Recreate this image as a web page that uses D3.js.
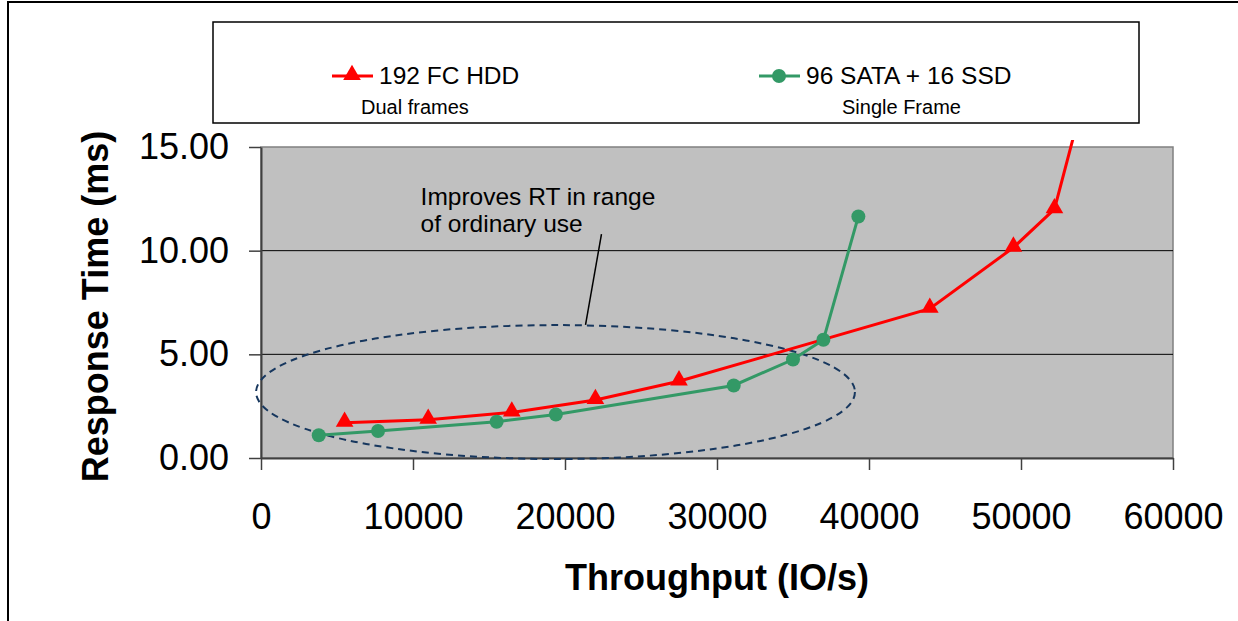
<!DOCTYPE html>
<html>
<head>
<meta charset="utf-8">
<script src="https://cdn.jsdelivr.net/npm/d3@7"></script>
<style>
  body { margin: 0; background: #fff; }
  text { font-family: "Liberation Sans", Arial, sans-serif; fill: #000; }
</style>
</head>
<body>
<script>
// data
let hddThroughput = [5500, 11000, 16500, 22000, 27500, 44000, 49500, 52200, 55000];
let hddRT         = [1.70, 1.85, 2.20, 2.80, 3.70, 7.20, 10.15, 12.0, 19.8];
let ssdThroughput = [3800, 7700, 15500, 19400, 31100, 35000, 37000, 39300];
let ssdRT         = [1.10, 1.30, 1.75, 2.10, 3.50, 4.75, 5.70, 11.65];
let xTicks = [0, 10000, 20000, 30000, 40000, 50000, 60000];
let yTicks = [0, 5, 10, 15];
let seriesNames = ["192 FC HDD", "96 SATA + 16 SSD"];
let seriesNotes = ["Dual frames", "Single Frame"];
let noteLines = ["Improves RT in range", "of ordinary use"];

let width = 1238;
let height = 621;
let plot = {left: 261, right: 1173, top: 147, bottom: 458};

let svg = d3.select("body").append("svg")
    .attr("width", width)
    .attr("height", height);

// outer frame
svg.append("path")
    .attr("d", `M8,${height} V2 H${width}`)
    .attr("fill", "none")
    .attr("stroke", "#000")
    .attr("stroke-width", 2);

let x = d3.scaleLinear().domain([0, 60000]).range([plot.left, plot.right]);
let y = d3.scaleLinear().domain([0, 15]).range([plot.bottom, plot.top]);

// plot area
svg.append("rect")
    .attr("x", plot.left).attr("y", plot.top)
    .attr("width", plot.right - plot.left).attr("height", plot.bottom - plot.top)
    .attr("fill", "#c0c0c0")
    .attr("stroke", "#808080")
    .attr("stroke-width", 1.5);

// gridlines
svg.append("g").selectAll("line")
    .data(yTicks.filter(d => d > 0 && d < 15))
    .enter().append("line")
    .attr("x1", plot.left).attr("x2", plot.right)
    .attr("y1", d => y(d)).attr("y2", d => y(d))
    .attr("stroke", "#000")
    .attr("stroke-width", 1);

// axes
let xAxis = svg.append("g")
    .attr("transform", `translate(0,${plot.bottom})`)
    .call(d3.axisBottom(x).tickValues(xTicks).tickFormat(d3.format("d"))
          .tickSize(12).tickSizeOuter(0).tickPadding(33));
let yAxis = svg.append("g")
    .attr("transform", `translate(${plot.left},0)`)
    .call(d3.axisLeft(y).tickValues(yTicks).tickFormat(d3.format(".2f"))
          .tickSize(12).tickSizeOuter(0).tickPadding(20));

[xAxis, yAxis].forEach(function(a) {
  a.select(".domain").attr("stroke", "#404040").attr("stroke-width", 2);
  a.selectAll(".tick line").attr("stroke", "#404040").attr("stroke-width", 1.5);
  a.selectAll(".tick text")
      .style("font-family", "'Liberation Sans', Arial, sans-serif")
      .style("font-size", "36px")
      .attr("fill", "#000");
});

// axis titles
svg.append("text")
    .attr("x", (plot.left + plot.right) / 2)
    .attr("y", 590)
    .attr("text-anchor", "middle")
    .style("font-size", "36px")
    .style("font-weight", "bold")
    .text("Throughput (IO/s)");

svg.append("text")
    .attr("transform", `translate(108,${(plot.top + plot.bottom) / 2 + 4}) rotate(-90)`)
    .attr("text-anchor", "middle")
    .style("font-size", "36px")
    .style("font-weight", "bold")
    .text("Response Time (ms)");

// annotation: ellipse + leader + note
let ell = {cx: 19375, cy: 3.18, rx: 19700, ry: 3.23};
svg.append("ellipse")
    .attr("cx", x(ell.cx)).attr("cy", y(ell.cy))
    .attr("rx", x(ell.rx) - x(0)).attr("ry", y(0) - y(ell.ry))
    .attr("fill", "none")
    .attr("stroke", "#17375e")
    .attr("stroke-width", 2)
    .attr("stroke-dasharray", "7,5");

let leader = [[22400, 10.8], [21350, 6.42]];
svg.append("line")
    .attr("x1", x(leader[0][0])).attr("y1", y(leader[0][1]))
    .attr("x2", x(leader[1][0])).attr("y2", y(leader[1][1]))
    .attr("stroke", "#000")
    .attr("stroke-width", 1.5);

svg.append("g").selectAll("text")
    .data(noteLines)
    .enter().append("text")
    .attr("x", x(10500))
    .attr("y", (d, i) => y(12.2) + i * 27)
    .style("font-size", "24.5px")
    .text(d => d);

// series
svg.append("clipPath").attr("id", "clip")
  .append("rect")
    .attr("x", plot.left).attr("y", plot.top - 7)
    .attr("width", plot.right - plot.left).attr("height", plot.bottom - plot.top + 7);

let line = d3.line().x(d => x(d[0])).y(d => y(d[1]));
let hdd = d3.zip(hddThroughput, hddRT);
let ssd = d3.zip(ssdThroughput, ssdRT);

let tri = d3.symbol().type(d3.symbolTriangle).size(135);

let series = svg.append("g").attr("clip-path", "url(#clip)");
series.append("path")
    .datum(hdd)
    .attr("d", line)
    .attr("fill", "none")
    .attr("stroke", "#ff0000")
    .attr("stroke-width", 3);
series.append("path")
    .datum(ssd)
    .attr("d", line)
    .attr("fill", "none")
    .attr("stroke", "#339966")
    .attr("stroke-width", 3);

series.selectAll(".tri")
    .data(hdd.filter(d => d[1] <= 15))
    .enter().append("path")
    .attr("class", "tri")
    .attr("d", tri)
    .attr("transform", d => `translate(${x(d[0])},${y(d[1]) - 1})`)
    .attr("fill", "#ff0000");
series.selectAll(".dot")
    .data(ssd)
    .enter().append("circle")
    .attr("class", "dot")
    .attr("cx", d => x(d[0])).attr("cy", d => y(d[1]))
    .attr("r", 7)
    .attr("fill", "#339966");

// legend
let legend = svg.append("g");
legend.append("rect")
    .attr("x", 213).attr("y", 22)
    .attr("width", 926).attr("height", 101)
    .attr("fill", "#fff")
    .attr("stroke", "#000")
    .attr("stroke-width", 1.5);

let legendX = [332, 759];
let colors = ["#ff0000", "#339966"];
let noteX = [361, 842];

seriesNames.forEach(function(name, i) {
  let g = legend.append("g").attr("transform", `translate(${legendX[i]},76)`);
  g.append("line")
      .attr("x1", 0).attr("x2", 41)
      .attr("stroke", colors[i])
      .attr("stroke-width", 3);
  if (i === 0) {
    g.append("path").attr("d", tri).attr("transform", "translate(20,-1)").attr("fill", colors[i]);
  } else {
    g.append("circle").attr("cx", 20).attr("r", 7).attr("fill", colors[i]);
  }
  g.append("text")
      .attr("x", 47).attr("y", 8)
      .style("font-size", "24.5px")
      .text(name);
  legend.append("text")
      .attr("x", noteX[i]).attr("y", 114)
      .style("font-size", "20px")
      .text(seriesNotes[i]);
});
</script>
</body>
</html>
